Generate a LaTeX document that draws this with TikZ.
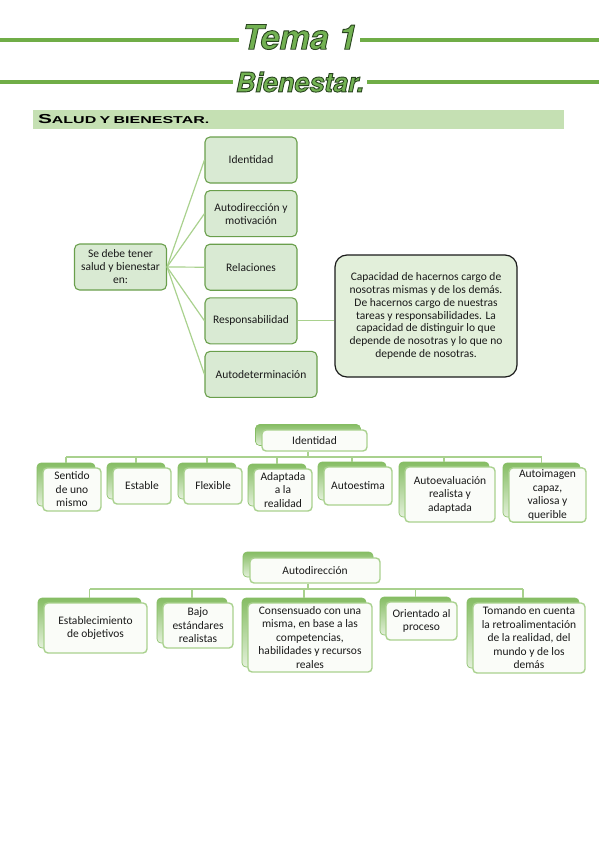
\documentclass[tikz,border=0pt]{standalone}
\usepackage{fontspec}
\setmainfont{Carlito}
\newfontfamily\titlefont{TeX Gyre Heros}
\newfontfamily\bandfont{Liberation Sans}[FakeStretch=1.6]
\usetikzlibrary{positioning}

\definecolor{lineg}{HTML}{70AD47}
\definecolor{bandg}{HTML}{C5E0B3}
\definecolor{boxg}{HTML}{D9EAD3}
\definecolor{edgeg}{HTML}{6A9F4C}
\definecolor{linkg}{HTML}{A9D18E}
\definecolor{notefill}{HTML}{E2EFDA}
\definecolor{backtop}{HTML}{86BD64}
\definecolor{backbot}{HTML}{E3F0DA}
\definecolor{titleg}{HTML}{72B152}
\definecolor{ink}{HTML}{1A1A1A}

\newcommand\outlined[1]{\special{pdf:literal direct 2 Tr 0.9 w 0.16 0.27 0.12 RG}#1\special{pdf:literal direct 0 Tr}}

\tikzset{
  titleline/.style={draw=lineg, line width=4pt},
  titletext/.style={text=titleg, inner sep=3pt, font=\titlefont\bfseries\itshape},
  band/.style={fill=bandg, minimum height=19pt, text width=521pt, align=left, inner sep=5pt},
  mapbox/.style={draw=edgeg, fill=boxg, line width=1.1pt, rounded corners=5pt, align=center,
    minimum width=92pt, minimum height=46pt, text=ink, font=\fontsize{11.5}{13}\selectfont},
  notebox/.style={draw=ink, fill=notefill, line width=1.2pt, rounded corners=12pt, align=center,
    minimum width=182pt, minimum height=122pt, text=ink, font=\fontsize{11.5}{12.8}\selectfont},
  maplink/.style={draw=linkg, line width=1.2pt},
  orgback/.style={top color=backtop, bottom color=backbot, draw=backtop, line width=0.6pt, rounded corners=4pt},
  orgfront/.style={fill=white!94!linkg, draw=linkg, line width=1.4pt, rounded corners=4pt, align=center,
    inner sep=2pt, text=ink, font=\fontsize{11.5}{13.5}\selectfont},
  orglink/.style={draw=linkg, line width=1.4pt}
}

\begin{document}
\begin{tikzpicture}[x=1pt, y=-1pt]
\useasboundingbox (0,0) rectangle (599,848);

\node[titletext, font=\titlefont\bfseries\itshape\fontsize{34}{34}\selectfont] (tema) at (299.5,37) {\outlined{Tema 1}};
\node[titletext, font=\titlefont\bfseries\itshape\fontsize{27}{27}\selectfont] (bienestar) at (300,82) {\outlined{Bienestar.}};
\coordinate (t1l) at (0,40);
\coordinate (t1r) at (599,40);
\coordinate (t2l) at (0,82);
\coordinate (t2r) at (599,82);
\draw[titleline] (t1l) -- (t1l -| tema.west);
\draw[titleline] (tema.east |- t1r) -- (t1r);
\draw[titleline] (t2l) -- (t2l -| bienestar.west);
\draw[titleline] (bienestar.east |- t2r) -- (t2r);

\node[band] (salud) at (298.5,119.5) {\bandfont\bfseries\fontsize{13}{13}\selectfont S\fontsize{10}{10}\selectfont ALUD Y BIENESTAR.};

\node[mapbox] (raiz) at (120.5,267) {Se debe tener\\salud y bienestar\\en:};
\node[mapbox] (ident) at (251,160) {Identidad};
\node[mapbox, below=6.5pt of ident] (autodir) {Autodirección y\\motivación};
\node[mapbox, below=6.5pt of autodir] (relac) {Relaciones};
\node[mapbox, below=6.5pt of relac] (respons) {Responsabilidad};
\node[mapbox, minimum width=112pt, below=6.5pt of respons.south west, anchor=north west] (autodet) {Autodeterminación};
\node[notebox] (nota) at (426,316) {Capacidad de hacernos cargo de\\nosotras mismas y de los demás.\\De hacernos cargo de nuestras\\tareas y responsabilidades. La\\capacidad de distinguir lo que\\depende de nosotras y lo que no\\depende de nosotras.};
\draw[maplink] (raiz.east) -- (ident.west);
\draw[maplink] (raiz.east) -- (autodir.west);
\draw[maplink] (raiz.east) -- (relac.west);
\draw[maplink] (raiz.east) -- (respons.west);
\draw[maplink] (raiz.east) -- (autodet.west);
\draw[maplink] (respons.east) -- (respons.east -| nota.west);

\node[orgback, minimum width=105pt, minimum height=21pt] (identidadb) at (308,435) {};
\node[orgfront, minimum width=105pt, minimum height=21pt] (identidad) at ([shift={(6.5,5.5)}]identidadb) {Identidad};
\node[orgback, minimum width=58pt, minimum height=43pt] (sentidob) at (66,484.5) {};
\node[orgfront, minimum width=58pt, minimum height=43pt] (sentido) at ([shift={(6,5)}]sentidob) {Sentido\\de uno\\mismo};
\node[orgback, minimum width=58pt, minimum height=36pt] (estableb) at (136,481) {};
\node[orgfront, minimum width=58pt, minimum height=36pt] (estable) at ([shift={(6,5)}]estableb) {Estable};
\node[orgback, minimum width=58pt, minimum height=36pt] (flexibleb) at (207,481) {};
\node[orgfront, minimum width=58pt, minimum height=36pt] (flexible) at ([shift={(6,5)}]flexibleb) {Flexible};
\node[orgback, minimum width=58pt, minimum height=42pt] (adaptadab) at (277,485) {};
\node[orgfront, minimum width=58pt, minimum height=42pt] (adaptada) at ([shift={(6,5)}]adaptadab) {Adaptada\\a la\\realidad};
\node[orgback, minimum width=68pt, minimum height=38pt] (autoestimab) at (352,481) {};
\node[orgfront, minimum width=68pt, minimum height=38pt] (autoestima) at ([shift={(6,5)}]autoestimab) {Autoestima};
\node[orgback, minimum width=90pt, minimum height=55pt] (autoevalb) at (444,489.5) {};
\node[orgfront, minimum width=90pt, minimum height=55pt] (autoeval) at ([shift={(6,5)}]autoevalb) {Autoevaluación\\realista y\\adaptada};
\node[orgback, minimum width=77pt, minimum height=54pt] (autoimagenb) at (541.5,490) {};
\node[orgfront, minimum width=77pt, minimum height=54pt] (autoimagen) at ([shift={(6,5)}]autoimagenb) {Autoimagen\\capaz,\\valiosa y\\querible};
\coordinate (idbus) at (308,457);
\draw[orglink] (identidad.south -| identidadb) -- (idbus);
\draw[orglink] (sentidob.north |- idbus) -- (autoimagenb.north |- idbus);
\draw[orglink] (sentidob.north |- idbus) -- (sentidob.north);
\draw[orglink] (estableb.north |- idbus) -- (estableb.north);
\draw[orglink] (flexibleb.north |- idbus) -- (flexibleb.north);
\draw[orglink] (adaptadab.north |- idbus) -- (adaptadab.north);
\draw[orglink] (autoestimab.north |- idbus) -- (autoestimab.north);
\draw[orglink] (autoevalb.north |- idbus) -- (autoevalb.north);
\draw[orglink] (autoimagenb.north |- idbus) -- (autoimagenb.north);

\node[orgback, minimum width=130pt, minimum height=25pt] (autodireccionb) at (308,564.5) {};
\node[orgfront, minimum width=130pt, minimum height=25pt] (autodireccion) at ([shift={(7,6)}]autodireccionb) {Autodirección};
\node[orgback, minimum width=103pt, minimum height=50pt] (objetivosb) at (89.5,623) {};
\node[orgfront, minimum width=103pt, minimum height=50pt] (objetivos) at ([shift={(6,5)}]objetivosb) {Establecimiento\\de objetivos};
\node[orgback, minimum width=70pt, minimum height=45pt] (estandaresb) at (192,620.5) {};
\node[orgfront, minimum width=70pt, minimum height=45pt] (estandares) at ([shift={(6,5)}]estandaresb) {Bajo\\estándares\\realistas};
\node[orgback, minimum width=124pt, minimum height=69pt] (consensob) at (304,632.5) {};
\node[orgfront, minimum width=124pt, minimum height=69pt] (consenso) at ([shift={(6,5)}]consensob) {Consensuado con una\\misma, en base a las\\competencias,\\habilidades y recursos\\reales};
\node[orgback, minimum width=71pt, minimum height=38pt] (procesob) at (415.5,616) {};
\node[orgfront, minimum width=71pt, minimum height=38pt] (proceso) at ([shift={(6,5)}]procesob) {Orientado al\\proceso};
\node[orgback, minimum width=112pt, minimum height=70pt] (retrob) at (523,633) {};
\node[orgfront, minimum width=112pt, minimum height=70pt] (retro) at ([shift={(6,5)}]retrob) {Tomando en cuenta\\la retroalimentación\\de la realidad, del\\mundo y de los\\demás};
\coordinate (adbus) at (308,589);
\draw[orglink] (autodireccion.south -| autodireccionb) -- (adbus);
\draw[orglink] (objetivosb.north |- adbus) -- (retrob.north |- adbus);
\draw[orglink] (objetivosb.north |- adbus) -- (objetivosb.north);
\draw[orglink] (estandaresb.north |- adbus) -- (estandaresb.north);
\draw[orglink] (consensob.north |- adbus) -- (consensob.north);
\draw[orglink] (procesob.north |- adbus) -- (procesob.north);
\draw[orglink] (retrob.north |- adbus) -- (retrob.north);
\end{tikzpicture}
\end{document}
